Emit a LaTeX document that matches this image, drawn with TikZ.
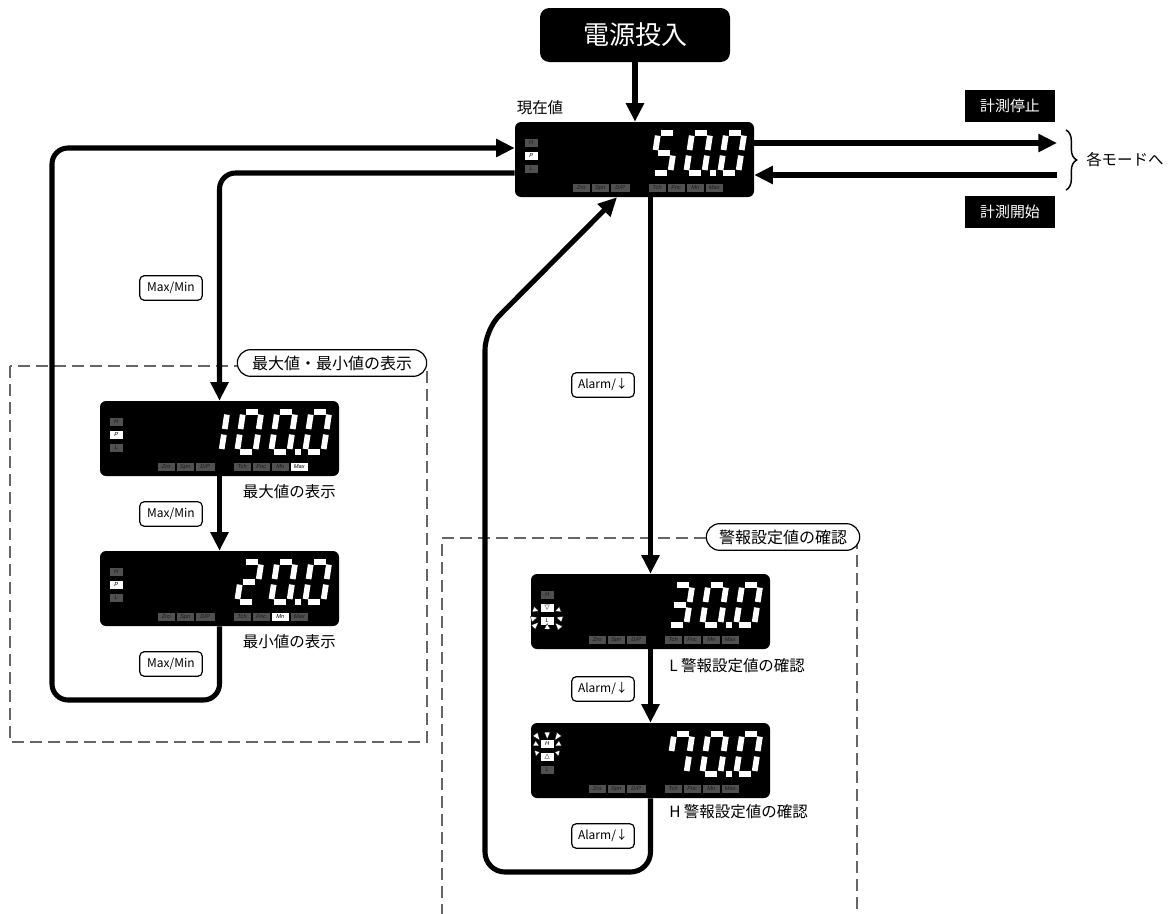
\documentclass[tikz,border=0pt]{standalone}
\usepackage{fontspec}
\setmainfont{Noto Sans CJK JP}
\newfontfamily\lblf{Liberation Sans}
\newfontfamily\symf{DejaVu Sans}
\usetikzlibrary{arrows.meta,calc,decorations.pathreplacing}
\definecolor{offbox}{HTML}{505050}
\definecolor{offtxt}{HTML}{1A1A1A}
\colorlet{onbox}{white}
\colorlet{ontxt}{black}
\definecolor{dashc}{HTML}{666666}
\tikzset{
  conn/.style={line width=3.8pt},
  arr/.style={conn,-{Triangle[length=14pt,width=13pt]}},
  lcd/.style={fill=black,rounded corners=4.5pt,minimum width=179.25pt,minimum height=56.25pt,inner sep=0pt},
  seg/.style={white,line width=4.3pt},
  tagtxt/.style={font=\lblf\itshape\fontsize{4.3pt}{4.3pt}\selectfont,inner sep=0pt},
  keylbl/.style={draw,line width=0.9pt,rounded corners=3.5pt,minimum width=47pt,minimum height=18.5pt,inner sep=1pt,font=\fontsize{9pt}{10pt}\selectfont,fill=white},
  blackbox/.style={fill=black,text=white,minimum width=67.5pt,minimum height=23.5pt,inner sep=0pt,font=\fontsize{11.2pt}{12pt}\selectfont},
  pill/.style={draw,line width=0.9pt,fill=white,rounded corners=10pt,minimum height=20pt,inner xsep=0pt,font=\fontsize{12pt}{13pt}\selectfont},
  lbl/.style={inner sep=0pt,font=\fontsize{11.6pt}{13pt}\selectfont},
  dashbox/.style={dashc,line width=0.9pt,dash pattern=on 9pt off 4.5pt},
  raytri/.style={fill=white,draw=black,line width=0.2pt}
}
\newcount\tgc
\newcommand\tg[5]{%
  \fill[#1box] (#2,#3) rectangle ++(#4,8);
  \global\advance\tgc by 1
  \node[tagtxt,text=#1txt] (tag\the\tgc) at ({#2+#4/2},{#3+4}) {#5};}
\newcommand\lcdtags[6]{%
  \tg{#1}{10}{17}{13}{H}%
  \tg{#2}{10}{30}{13}{#3}%
  \tg{#4}{10}{43}{13}{L}%
  \tg{off}{58}{62}{17}{Zro}%
  \tg{off}{77}{62}{17}{Spn}%
  \tg{off}{96}{62}{19}{D/P}%
  \tg{off}{134}{62}{17}{Tch}%
  \tg{off}{153}{62}{17}{Fnc}%
  \tg{#5}{172}{62}{17}{Mn}%
  \tg{#6}{191}{62}{17}{Max}}
\newcommand\dg[8]{%
  \begin{scope}[shift={({#1+7},8)},xslant=0.152]
  \ifnum#2=1 \draw[seg] (5.9,2.9)--(18.1,2.9);\fi
  \ifnum#3=1 \draw[seg] (21.1,5.9)--(21.1,20.3);\fi
  \ifnum#4=1 \draw[seg] (21.1,25.9)--(21.1,40.3);\fi
  \ifnum#5=1 \draw[seg] (5.9,43.3)--(18.1,43.3);\fi
  \ifnum#6=1 \draw[seg] (2.9,25.9)--(2.9,40.3);\fi
  \ifnum#7=1 \draw[seg] (2.9,5.9)--(2.9,20.3);\fi
  \ifnum#8=1 \draw[seg] (5.9,23.1)--(18.1,23.1);\fi
  \end{scope}}
\newcommand\dzero[1]{\dg{#1}1111110}
\newcommand\done[1]{\dg{#1}0110000}
\newcommand\dtwo[1]{\dg{#1}1101101}
\newcommand\dthree[1]{\dg{#1}1111001}
\newcommand\dfive[1]{\dg{#1}1011011}
\newcommand\dseven[1]{\dg{#1}1110010}
\newcommand\dpt{\fill[white] (195,48.5) rectangle (201.5,54.5);}
\newcommand\rays[3]{%
  \foreach \dx/\dy in {#3}{%
    \coordinate (rc) at (#1,#2);
    \coordinate (rp) at ({#1+\dx},{#2+\dy});
    \filldraw[raytri] ($(rc)!0.62!(rp)$) -- ($(rp)!2.2pt!90:(rc)$) -- ($(rp)!2.2pt!-90:(rc)$) -- cycle;}}
\begin{document}
\begin{tikzpicture}[x=0.75pt,y=-0.75pt]
\useasboundingbox (0,0) rectangle (1175,914);

% dashed groups
\draw[dashbox] (10,366) rectangle (427,742);
\draw[dashbox] (442,916) -- (442,538) -- (857,538) -- (857,916);
\node[pill,minimum width=142pt] (pmm) at (332,363) {最大値・最小値の表示};
\node[pill,minimum width=115pt] (pal) at (783,537) {警報設定値の確認};

% power on
\node[fill=black,text=white,rounded corners=7pt,minimum width=142.5pt,minimum height=40.5pt,inner sep=0pt,font=\fontsize{19.5pt}{20pt}\selectfont] (pw) at (635,35) {電源投入};

% displays
\node[lcd] (main) at (634.5,159.5) {};
\node[lcd] (d1) at (219.5,438.5) {};
\node[lcd] (d2) at (219.5,588.5) {};
\node[lcd] (d3) at (650.5,611.5) {};
\node[lcd] (d4) at (650.5,760.5) {};

\begin{scope}[shift={(main.north west)}]
  \lcdtags{off}{on}{P}{off}{off}{off}
  \dfive{134}\dzero{168}\dzero{202}\dpt
\end{scope}
\begin{scope}[shift={(d1.north west)}]
  \lcdtags{off}{on}{P}{off}{off}{on}
  \done{100}\dzero{134}\dzero{168}\dzero{202}\dpt
\end{scope}
\begin{scope}[shift={(d2.north west)}]
  \lcdtags{off}{on}{P}{off}{on}{off}
  \dtwo{134}\dzero{168}\dzero{202}\dpt
\end{scope}
\begin{scope}[shift={(d3.north west)}]
  \lcdtags{off}{on}{\symf\fontsize{5pt}{5pt}\selectfont ▽}{on}{off}{off}
  \rays{16.5}{40.5}{-14/-5,-16/5,-14/13,0/15,13/14,15/5,13/-5}
  \dthree{134}\dzero{168}\dzero{202}\dpt
\end{scope}
\begin{scope}[shift={(d4.north west)}]
  \lcdtags{on}{on}{\symf\fontsize{5pt}{5pt}\selectfont △}{off}{off}{off}
  \rays{16.5}{27.5}{-12/-16,0/-18,12/-16,-13/-7,13/-7,-12/3,12/3}
  \dseven{134}\dzero{168}\dzero{202}\dpt
\end{scope}

% labels
\node[lbl] (cur) at (540,108) {現在値};
\node[lbl,anchor=east] (tmax) at (336,492) {最大値の表示};
\node[lbl,anchor=east] (tmin) at (336,642) {最小値の表示};
\node[lbl,anchor=west] (tl) at (669,666) {L 警報設定値の確認};
\node[lbl,anchor=west] (th) at (669,812) {H 警報設定値の確認};

\node[blackbox] (stop) at (1010,106) {計測停止};
\node[blackbox] (start) at (1010,212) {計測開始};
\coordinate (brT) at (1066,130);
\coordinate (brB) at (1066,190);
\draw[line width=1.1pt,decorate,decoration={brace,amplitude=8pt}] (brT) -- (brB);
\node[lbl,anchor=west] (modes) at (1086,160) {各モードへ};

% connectors
\draw[arr] (pw.south) -- (pw.south |- main.north);
\coordinate (outR) at (1057,143);
\coordinate (inR) at (1057,175);
\draw[arr] (main.east |- outR) -- (outR);
\draw[arr] (inR) -- (main.east |- inR);

\coordinate (LB) at (52,700);
\coordinate (LT) at (52,148);
\draw[arr,rounded corners=12pt] (d2.south) |- (LB) -- (LT) -- (main.west |- LT);
\coordinate (M1) at (219.5,173);
\draw[arr,rounded corners=12pt] (main.west |- M1) -| (d1.north);
\draw[arr] (d1.south) -- (d2.north);

\draw[arr] (d3.north |- main.south) -- (d3.north);
\draw[arr] (d3.south) -- (d4.north);
\coordinate (RB) at (485,872);
\coordinate (RC) at (485,330);
\coordinate (RX) at (617,0);
\draw[arr,rounded corners=15pt] (d4.south) |- (RB) -- (RC) -- (main.south -| RX);

% key labels
\node[keylbl] (k1) at (171,288) {Max/Min};
\node[keylbl] (k2) at (171,514) {Max/Min};
\node[keylbl] (k3) at (171,664) {Max/Min};
\node[keylbl] (a1) at (603,385) {Alarm/↓};
\node[keylbl] (a2) at (603,689) {Alarm/↓};
\node[keylbl] (a3) at (603,836) {Alarm/↓};
\end{tikzpicture}
\end{document}
